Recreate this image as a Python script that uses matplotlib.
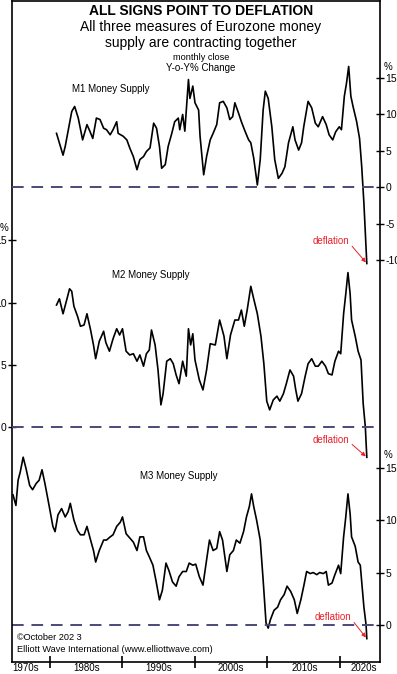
import matplotlib
matplotlib.use("Agg")
import matplotlib.pyplot as plt

plt.rcParams['font.family'] = ['Liberation Sans', 'DejaVu Sans']

# ---------------------- Data (Y-o-Y % change) ----------------------
m1_years = [1980.9, 1981.8, 1982.1, 1983.0, 1983.4, 1983.9, 1984.5, 1985.1, 1985.5, 1985.9,
            1986.4, 1986.9, 1987.4, 1987.8, 1988.3, 1988.7, 1989.2, 1989.4, 1990.1, 1990.6,
            1991.0, 1991.5, 1992.0, 1992.4, 1992.9, 1993.3, 1993.8, 1994.3, 1994.7, 1995.1,
            1995.4, 1995.9, 1996.3, 1996.8, 1997.2, 1997.7, 1997.9, 1998.3, 1998.6, 1999.1,
            1999.3, 1999.7, 2000.0, 2000.5, 2000.7, 2001.2, 2001.6, 2002.1, 2002.5, 2003.0,
            2003.4, 2003.9, 2004.4, 2004.8, 2005.2, 2005.5, 2006.0, 2006.4, 2006.9, 2007.4,
            2007.7, 2008.1, 2008.6, 2009.0, 2009.4, 2009.7, 2010.1, 2010.6, 2011.0, 2011.5,
            2012.0, 2012.4, 2012.9, 2013.5, 2013.8, 2014.3, 2014.7, 2015.0, 2015.6, 2016.1,
            2016.6, 2017.0, 2017.6, 2018.1, 2018.5, 2019.0, 2019.4, 2019.9, 2020.2, 2020.6,
            2020.9, 2021.2, 2021.5, 2021.8, 2022.3, 2022.7, 2023.0, 2023.3, 2023.7]
m1_values = [7.4, 4.4, 5.6, 10.4, 11.1, 9.5, 6.5, 8.6, 7.7, 6.7,
             9.5, 9.3, 8.1, 7.9, 7.2, 7.9, 9.0, 7.4, 7.0, 6.5,
             5.4, 4.2, 2.4, 3.8, 4.2, 4.9, 5.4, 8.8, 8.1, 5.6,
             2.6, 3.1, 5.6, 7.4, 9.0, 9.5, 7.9, 10.0, 7.7, 14.8,
             12.2, 13.9, 11.6, 10.6, 7.0, 1.7, 4.2, 6.5, 7.4, 8.6,
             11.6, 11.8, 10.9, 9.3, 9.7, 11.6, 10.2, 9.0, 7.7, 6.5,
             6.1, 4.0, 0.3, 3.8, 10.6, 13.2, 12.2, 8.3, 3.8, 1.2,
             1.9, 2.8, 6.1, 8.3, 6.5, 5.1, 6.1, 8.3, 11.8, 10.9,
             8.8, 8.3, 9.7, 8.6, 7.2, 6.5, 7.6, 8.3, 7.9, 12.5,
             14.3, 16.6, 12.5, 11.1, 9.0, 6.7, 2.8, -2.2, -10.5]

m2_years = [1980.9, 1981.3, 1981.8, 1982.3, 1982.7, 1983.0, 1983.3, 1983.8, 1984.2, 1984.7,
            1985.1, 1985.6, 1986.0, 1986.3, 1986.8, 1987.4, 1987.7, 1988.2, 1988.7, 1989.2,
            1989.6, 1990.0, 1990.5, 1991.0, 1991.5, 1992.0, 1992.4, 1992.9, 1993.3, 1993.7,
            1994.0, 1994.5, 1994.9, 1995.3, 1995.6, 1996.1, 1996.6, 1997.0, 1997.4, 1997.8,
            1998.3, 1998.8, 1999.1, 1999.4, 1999.7, 2000.0, 2000.6, 2001.1, 2001.6, 2002.1,
            2002.8, 2003.4, 2004.0, 2004.4, 2004.9, 2005.5, 2006.0, 2006.4, 2006.8, 2007.2,
            2007.7, 2008.1, 2008.6, 2009.1, 2009.5, 2009.9, 2010.3, 2010.8, 2011.3, 2011.7,
            2012.2, 2012.6, 2013.1, 2013.6, 2013.9, 2014.2, 2014.7, 2015.2, 2015.6, 2016.1,
            2016.6, 2017.0, 2017.5, 2018.0, 2018.4, 2018.9, 2019.3, 2019.8, 2020.1, 2020.5,
            2020.8, 2021.1, 2021.4, 2021.6, 2022.1, 2022.5, 2022.9, 2023.2, 2023.5, 2023.7]
m2_values = [9.8, 10.3, 9.1, 10.2, 11.1, 10.9, 9.7, 8.9, 8.1, 8.2,
             9.1, 7.8, 6.6, 5.5, 6.9, 7.7, 6.8, 6.1, 7.1, 7.9,
             7.4, 7.9, 6.1, 5.8, 5.9, 5.3, 5.8, 4.9, 5.9, 6.2,
             7.8, 6.6, 4.6, 1.8, 2.7, 5.3, 5.5, 5.1, 4.2, 3.5,
             5.3, 4.1, 7.9, 6.6, 7.5, 5.4, 3.8, 3.0, 4.6, 6.7,
             6.6, 8.6, 7.3, 5.5, 7.4, 8.6, 8.6, 9.4, 8.1, 9.4,
             11.3, 10.3, 9.1, 7.3, 5.1, 2.1, 1.4, 2.2, 2.5, 2.1,
             2.7, 3.5, 4.6, 4.1, 3.0, 2.1, 2.7, 4.1, 5.1, 5.5,
             4.9, 4.9, 5.3, 4.9, 4.3, 4.2, 5.3, 6.1, 5.9, 9.1,
             10.7, 12.4, 10.7, 8.6, 7.3, 6.1, 5.4, 1.9, 0.0, -2.4]

m3_years = [1974.9, 1975.3, 1975.6, 1975.9, 1976.3, 1976.7, 1977.2, 1977.6, 1978.1, 1978.5,
            1978.9, 1979.3, 1979.9, 1980.4, 1980.7, 1981.1, 1981.6, 1982.1, 1982.5, 1982.8,
            1983.3, 1983.8, 1984.2, 1984.7, 1985.1, 1985.6, 1986.0, 1986.3, 1986.8, 1987.4,
            1987.8, 1988.3, 1988.7, 1989.2, 1989.7, 1990.0, 1990.5, 1991.0, 1991.5, 1992.0,
            1992.4, 1992.9, 1993.3, 1993.7, 1994.2, 1994.6, 1995.1, 1995.5, 1996.0, 1996.4,
            1996.9, 1997.4, 1997.8, 1998.3, 1998.8, 1999.2, 1999.7, 2000.1, 2000.6, 2001.1,
            2001.6, 2002.0, 2002.5, 2003.0, 2003.4, 2003.8, 2004.4, 2004.8, 2005.3, 2005.7,
            2006.2, 2006.7, 2007.1, 2007.5, 2007.8, 2008.1, 2008.5, 2009.0, 2009.4, 2009.8,
            2010.1, 2010.4, 2010.9, 2011.4, 2011.8, 2012.3, 2012.7, 2013.2, 2013.7, 2014.1,
            2014.6, 2015.0, 2015.4, 2015.9, 2016.3, 2016.8, 2017.2, 2017.7, 2018.1, 2018.4,
            2018.9, 2019.3, 2019.8, 2020.1, 2020.5, 2020.8, 2021.1, 2021.4, 2021.6, 2022.1,
            2022.5, 2022.8, 2023.3, 2023.6, 2023.7]
m3_values = [12.4, 11.4, 13.8, 14.6, 16.0, 14.9, 13.3, 12.9, 13.5, 13.8,
             14.8, 13.5, 11.3, 9.4, 8.9, 10.5, 11.1, 10.3, 10.8, 11.6,
             10.0, 9.0, 8.6, 8.6, 9.4, 8.1, 7.1, 6.0, 7.1, 8.1,
             8.1, 8.4, 8.6, 9.4, 9.8, 10.3, 8.7, 8.3, 7.9, 7.1,
             8.4, 8.4, 7.1, 6.5, 5.7, 4.3, 2.4, 3.3, 5.9, 5.2,
             4.1, 3.7, 4.6, 5.1, 5.1, 5.9, 5.7, 5.8, 4.6, 3.8,
             6.2, 8.1, 7.1, 7.3, 8.9, 8.1, 5.1, 6.7, 7.1, 8.1,
             7.8, 8.9, 10.3, 11.3, 12.5, 11.3, 10.0, 8.1, 4.3, 0.2,
             -0.3, 0.5, 1.4, 1.7, 2.4, 2.9, 3.7, 3.2, 2.4, 1.1,
             2.4, 3.7, 5.1, 4.9, 5.0, 4.8, 5.0, 4.9, 5.1, 3.8,
             4.0, 4.8, 5.7, 4.9, 8.4, 10.3, 12.5, 10.6, 8.4, 7.5,
             6.0, 5.7, 1.7, 0.0, -1.3]

decade_ticks = [1980, 1990, 2000, 2010, 2020]
decade_label_pos = [1976.7, 1985.0, 1995.0, 2005.0, 2015.2, 2023.3]
decade_labels = ["1970s", "1980s", "1990s", "2000s", "2010s", "2020s"]

W, H = 397, 674
fig = plt.figure(figsize=(W / 100, H / 100), dpi=100)
rect = [12 / W, 12 / H, 368 / W, 661 / H]

ax3 = fig.add_axes(rect)                 # M3, frame + x axis
ax1 = fig.add_axes(rect, sharex=ax3)     # M1
ax2 = fig.add_axes(rect, sharex=ax3)     # M2

dash_col = "#4a4a78"
for ax in (ax1, ax2):
    ax.patch.set_visible(False)
    for s in ax.spines.values():
        s.set_visible(False)
    ax.tick_params(axis='x', which='both', bottom=False, labelbottom=False)

for s in ax3.spines.values():
    s.set_linewidth(1.2)

ax3.set_xlim(1974.76, 2025.52)

# y scales so that each panel sits at its own height inside the frame
ax1.set_ylim(-65.3, 25.6)
ax2.set_ylim(-18.8, 34.16)
ax3.set_ylim(-3.53, 59.5)

ax1.plot(m1_years, m1_values, color="black", lw=1.2)
ax2.plot(m2_years, m2_values, color="black", lw=1.2)
ax3.plot(m3_years, m3_values, color="black", lw=1.2)

for ax in (ax1, ax2, ax3):
    ax.axhline(0, color=dash_col, lw=1.4, ls=(0, (6, 4)))

# y ticks
ax1.yaxis.tick_right()
ax1.set_yticks([-10, -5, 0, 5, 10, 15])
ax1.set_yticklabels(["-10", "-5", "0", "5", "10", "15"])
ax3.yaxis.tick_right()
ax3.set_yticks([0, 5, 10, 15])
ax2.yaxis.tick_left()
ax2.set_yticks([0, 5, 10, 15])
for ax in (ax1, ax2, ax3):
    ax.tick_params(axis='y', direction='inout', length=6, width=1, labelsize=7.5, pad=0.8)

# x ticks: marks at decade boundaries, labels in between
ax3.set_xticks(decade_ticks)
ax3.set_xticklabels([])
ax3.set_xticks(decade_label_pos, minor=True)
ax3.set_xticklabels(decade_labels, minor=True)
ax3.tick_params(axis='x', which='major', direction='inout', length=8, width=1.2)
ax3.tick_params(axis='x', which='minor', length=0, labelsize=7, pad=1)

def fx(px):
    return px / W

def fy(py):
    return 1 - py / H

# titles
fig.text(fx(201), fy(11), "ALL SIGNS POINT TO DEFLATION", ha='center', va='center',
         fontsize=10, fontweight='bold')
fig.text(fx(201), fy(27), "All three measures of Eurozone money", ha='center', va='center', fontsize=10)
fig.text(fx(201), fy(43), "supply are contracting together", ha='center', va='center', fontsize=10)
fig.text(fx(201), fy(57), "monthly close", ha='center', va='center', fontsize=6.6)
fig.text(fx(201), fy(68), "Y-o-Y% Change", ha='center', va='center', fontsize=7)

# % signs
fig.text(fx(384), fy(67), "%", ha='left', va='center', fontsize=7)
fig.text(fx(384), fy(455), "%", ha='left', va='center', fontsize=7)
fig.text(fx(0), fy(228), "%", ha='left', va='center', fontsize=7)

# panel names
fig.text(fx(72), fy(89), "M1 Money Supply", ha='left', va='center', fontsize=7)
fig.text(fx(112), fy(275), "M2 Money Supply", ha='left', va='center', fontsize=7)
fig.text(fx(140), fy(476), "M3 Money Supply", ha='left', va='center', fontsize=7)

# deflation arrows
for ax, yrs, vals, tx, ty in ((ax1, m1_years, m1_values, 331, 241),
                              (ax2, m2_years, m2_values, 331, 440),
                              (ax3, m3_years, m3_values, 333, 617)):
    ax.annotate("deflation", xy=(yrs[-1], vals[-1]), xycoords='data',
                xytext=(fx(tx), fy(ty)), textcoords='figure fraction',
                ha='center', va='center', fontsize=7, color="#e8202a",
                arrowprops=dict(arrowstyle="-|>", color="#e8202a", lw=0.7,
                                mutation_scale=6, shrinkA=0, shrinkB=1,
                                relpos=(1.0, 0.3)))

# credit
fig.text(fx(17), fy(637), "\u00a9October 202 3", ha='left', va='center', fontsize=6.6)
fig.text(fx(17), fy(649), "Elliott Wave International (www.elliottwave.com)", ha='left', va='center',
         fontsize=6.6)

fig.savefig("out.png", dpi=100)
